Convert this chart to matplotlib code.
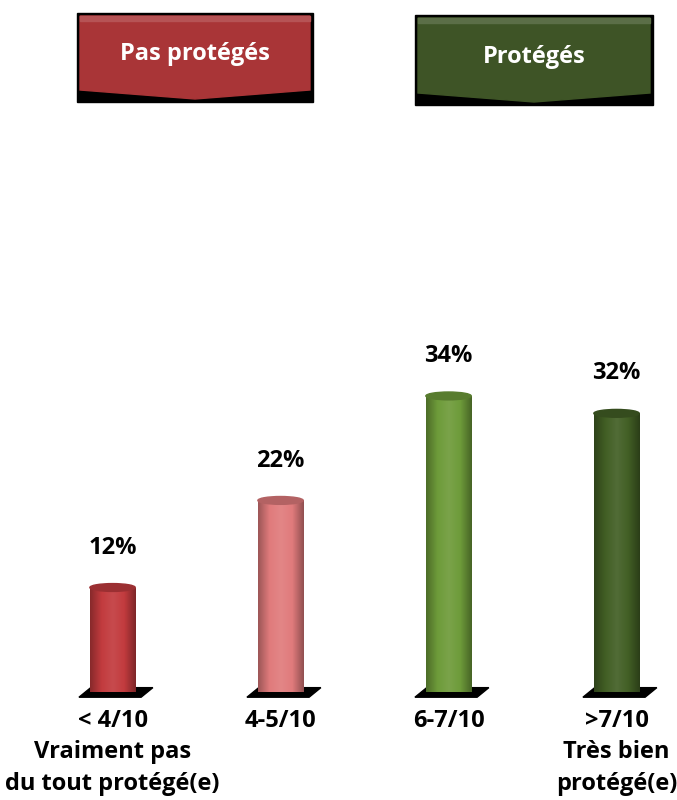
import numpy as np
import matplotlib.pyplot as plt
from matplotlib.patches import Polygon, Rectangle, Ellipse
from matplotlib.colors import LinearSegmentedColormap, to_rgb

plt.rcParams['font.family'] = ['Open Sans', 'DejaVu Sans']
plt.rcParams['font.weight'] = 'bold'

# data
categories = ['< 4/10\nVraiment pas\ndu tout protégé(e)', '4-5/10', '6-7/10', '>7/10\nTrès bien\nprotégé(e)']
values = [12, 22, 34, 32]
colors = ['#C23B3E', '#E07B7C', '#6E9B3A', '#425F25']
banners = ['Pas protégés', 'Protégés']
banner_colors = ['#A93537', '#3E5426']

fig = plt.figure(figsize=(6.77, 8), dpi=100)
ax = fig.add_axes([0, 0.135, 1, 0.615])
x = np.arange(len(values))
w = 0.27
ax.axis('off')

def shade(c, f):
    r = np.array(to_rgb(c))
    return tuple(np.clip(r * f, 0, 1)) if f < 1 else tuple(r + (1 - r) * (f - 1))

for xi, v, c in zip(x, values, colors):
    # shadow base
    base = Polygon([[xi - 0.2, -0.6], [xi + 0.17, -0.6], [xi + 0.24, 0.5], [xi - 0.13, 0.5]],
                   closed=True, color='black', clip_on=False, zorder=1)
    ax.add_patch(base)
    bars = ax.bar(xi, v, width=w, color=c, zorder=2)
    cmap = LinearSegmentedColormap.from_list('c', [shade(c, 0.7), c, shade(c, 1.08), c, shade(c, 0.65)])
    grad = np.linspace(0, 1, 100).reshape(1, -1)
    im = ax.imshow(grad, extent=[xi - w / 2, xi + w / 2, 0, v], aspect='auto', cmap=cmap, zorder=3)
    im.set_clip_path(bars[0])
    ax.add_patch(Ellipse((xi, v), w, 0.9, color=shade(c, 0.8), zorder=4))
    ax.text(xi, v + 3.2, f'{v}%', ha='center', va='bottom', fontsize=17, fontweight='bold')
    ax.text(xi, -1.9, categories[xi], ha='center', va='top', fontsize=17, fontweight='bold',
            linespacing=1.42)

ax.set_ylim(0, 56.5)
ax.set_xlim(-0.67, 3.36)

# banners in pixel space
ov = fig.add_axes([0, 0, 1, 1], zorder=-1)
ov.set_xlim(0, 677)
ov.set_ylim(800, 0)
ov.axis('off')
for (x0, x1, y0, y1), label, bc in zip([(77, 313, 13, 102), (415, 653, 15, 105)], banners, banner_colors):
    ov.add_patch(Rectangle((x0, y0), x1 - x0, y1 - y0, color='black'))
    xm = (x0 + x1) / 2
    ov.add_patch(Polygon([[x0 + 3, y0 + 3], [x1 - 3, y0 + 3], [x1 - 3, y1 - 12],
                          [xm, y1 - 3], [x0 + 3, y1 - 12]], closed=True, color=bc))
    ov.add_patch(Rectangle((x0 + 3, y0 + 3), x1 - x0 - 6, 5, color=shade(bc, 1.15)))
    ov.text(xm, (y0 + y1) / 2 - 3, label, ha='center', va='center', color='white',
            fontsize=17, fontweight='bold')

fig.savefig('out.png', dpi=100)
